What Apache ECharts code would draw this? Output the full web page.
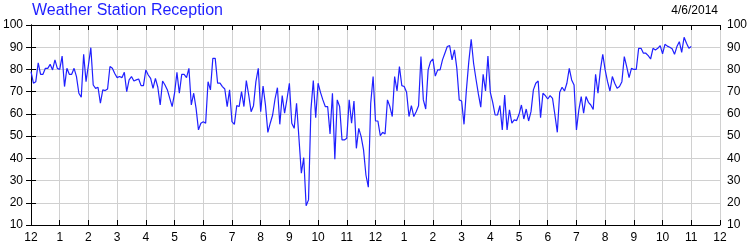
<!DOCTYPE html>
<html>
<head>
<meta charset="utf-8">
<script src="https://cdn.jsdelivr.net/npm/echarts@6/dist/echarts.min.js"></script>
<style>
html,body{margin:0;padding:0;background:#fff;}
#chart{width:750px;height:250px;}
</style>
</head>
<body>
<div id="chart"></div>
<script>
var sampleMinutes = 5;
var valuesNight = [79, 73.8, 74.5, 83, 77.8, 77.8, 80.5, 80.5, 82.3, 79.8,
  84.3, 80.5, 80, 86, 72.3, 80.5, 77.8, 77.8, 80.5, 76.8,
  69.3, 67.5, 86.8, 74.5, 82, 89.8, 73, 71.5, 72, 64.8,
  70.8, 70.5, 71.2, 81.3, 80.5, 78.2, 76.3, 76.8, 76.3, 78.7,
  70, 75.3, 76.8, 74.8, 75.3, 75.7, 72.7, 72.7, 79.8, 77.5,
  76, 71.5, 76, 72, 64, 74.8, 73, 70.8, 67, 63.3,
  69.3, 78.7, 69.3, 77.8, 77.8, 76.3, 80.5, 64, 69.3, 62.5,
  52.8, 55.8];
var valuesMorning = [56.5, 55.8, 74.5, 70.8, 85, 85, 73.8, 73.8,
  72.3, 71.2, 63.3, 70.8, 56.5, 55.3, 63.7, 63.3, 70, 63.3,
  75, 68.5, 61, 63.7, 74.5, 80.5, 61, 72.5, 64, 51.7,
  55.8, 59.5, 66.7, 71.8, 55.3, 68.2, 60.3, 66.7, 73.8, 55.8,
  53.5, 64.8, 49, 33.3, 40.3, 18.7, 21.3, 61.8, 75, 58.3,
  73.8, 69.7, 66.3, 63.3, 63.3, 51, 69.3, 39.6, 66.3, 63.3,
  48.3, 48.3, 49, 66.3, 55.8, 65.8, 44.5, 53.5, 49.8, 43.8,
  32.5, 27, 64.8, 76.8];
var valuesAfternoon = [56.8, 56.8, 50.2, 51.7, 51, 66.3,
  63.3, 58.8, 76.8, 70.3, 81.3, 72.7, 72.3, 69.7, 58.8, 63.7,
  58.8, 61, 63.7, 85.8, 66.3, 62.2, 79.8, 83.5, 84.7, 77,
  79.8, 79.8, 84.3, 87.3, 90.3, 90.7, 84.3, 88.8, 80.5, 66.3,
  65.8, 55.3, 70.8, 83.5, 93.6, 82.8, 75.7, 69, 63, 77.8,
  70.3, 86, 69.7, 65.2, 59.5, 59.5, 63.7, 52.8, 68.5, 52.8,
  61.8, 55.8, 57.3, 57, 59.8, 64, 57.7, 62.2, 56.8, 61,
  70.8, 73.8, 74.8, 58.3, 69.3, 68.2];
var valuesEvening = [66.7, 68.2, 67, 59.5,
  51.7, 69.7, 72, 70.3, 73.8, 80.5, 75.3, 73, 52.8, 61.8,
  67.8, 60.3, 67.8, 65.2, 64, 62, 77.8, 69.3, 79.8, 86.8,
  79.8, 74.5, 70.3, 76.8, 73.8, 71.5, 72.3, 74.5, 85.8, 81.3,
  76.3, 80.5, 80, 80, 89.5, 89.5, 87.3, 87.3, 86.2, 84.7,
  89.5, 88.8, 89.5, 90.7, 87, 91.3, 90.5, 90, 89.3, 86.8,
  90.3, 92.5, 87.7, 94.5, 91.8, 89.5, 90.3];
var hourLabels = ['12','1','2','3','4','5','6','7','8','9','10','11',
                  '12','1','2','3','4','5','6','7','8','9','10','11','12'];
var yTicks = [10, 20, 30, 40, 50, 60, 70, 80, 90, 100];
var titleText = 'Weather Station Reception';
var dateText = '4/6/2014';

var values = valuesNight.concat(valuesMorning, valuesAfternoon, valuesEvening);
var seriesData = values.map(function (v, i) { return [i * sampleMinutes / 60, v]; });

var chart = echarts.init(document.getElementById('chart'), null, {renderer: 'canvas'});
var font = 'Arial, "Liberation Sans", sans-serif';
var axisLineStyle = {color: '#000', width: 1};
var labelStyle = {color: '#000', fontSize: 12, fontFamily: font};

chart.setOption({
  animation: false,
  backgroundColor: '#fff',
  title: {
    text: titleText, left: 32, top: 3, padding: 0,
    textStyle: {color: '#1f1fff', fontSize: 16, fontWeight: 'normal', fontFamily: font}
  },
  graphic: [{
    type: 'text', right: 32, top: 5,
    style: {text: dateText, fill: '#000', fontSize: 12, fontFamily: font}
  }],
  grid: {left: 30, right: 30, top: 25, bottom: 25, containLabel: false},
  xAxis: [{
    type: 'value', min: 0, max: 24, interval: 1, position: 'bottom',
    axisLine: {show: true, lineStyle: axisLineStyle},
    axisTick: {show: true, inside: true, length: 5, lineStyle: axisLineStyle},
    axisLabel: Object.assign({margin: 7, showMinLabel: true, showMaxLabel: true,
      formatter: function (v) { return hourLabels[Math.round(v)]; }}, labelStyle),
    splitLine: {show: true, lineStyle: {color: '#d0d0d0', width: 1}}
  }, {
    type: 'value', min: 0, max: 24, interval: 1, position: 'top',
    axisLine: {show: true, lineStyle: axisLineStyle},
    axisTick: {show: true, inside: true, length: 5, lineStyle: axisLineStyle},
    axisLabel: {show: false},
    splitLine: {show: false}
  }],
  yAxis: [{
    type: 'value', min: yTicks[0], max: yTicks[yTicks.length - 1], interval: 10, position: 'left',
    axisLine: {show: true, lineStyle: axisLineStyle},
    axisTick: {show: true, inside: true, length: 5, lineStyle: axisLineStyle},
    axisLabel: Object.assign({margin: 8}, labelStyle),
    splitLine: {show: true, lineStyle: {color: '#d0d0d0', width: 1}}
  }, {
    type: 'value', min: yTicks[0], max: yTicks[yTicks.length - 1], interval: 10, position: 'right',
    axisLine: {show: true, lineStyle: axisLineStyle},
    axisTick: {show: true, inside: true, length: 5, lineStyle: axisLineStyle},
    axisLabel: Object.assign({margin: 7}, labelStyle),
    splitLine: {show: false}
  }],
  series: [{
    type: 'line', xAxisIndex: 0, yAxisIndex: 0,
    data: seriesData, showSymbol: false, symbol: 'none',
    lineStyle: {color: '#2020ff', width: 1.2},
    itemStyle: {color: '#2020ff'}
  }]
});
</script>
</body>
</html>
